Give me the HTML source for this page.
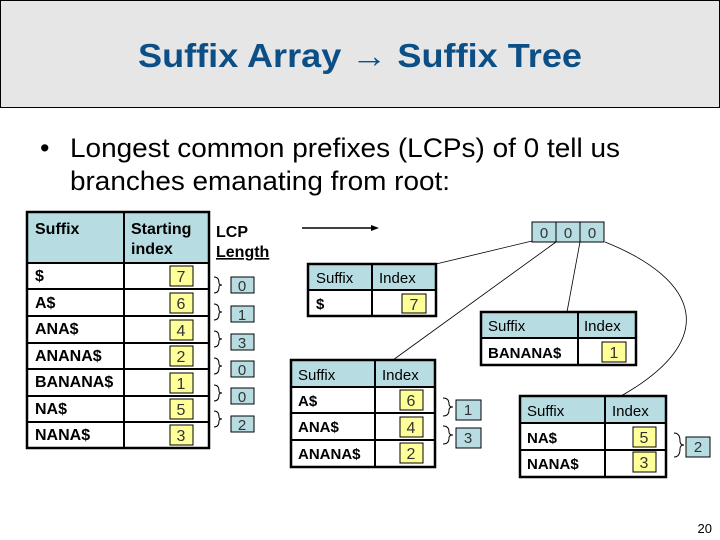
<!DOCTYPE html>
<html><head><meta charset="utf-8"><style>
html,body{margin:0;padding:0;background:#fff;}
svg{display:block;font-family:"Liberation Sans",Arial,sans-serif;}
</style></head><body>
<svg width="720" height="540" viewBox="0 0 720 540" xmlns="http://www.w3.org/2000/svg">
<rect x="0.5" y="0.5" width="719" height="107" fill="#e6e6e6" stroke="#000" stroke-width="1"/>
<text x="360" y="67" text-anchor="middle" font-size="33" font-weight="bold" fill="#0b4f86" textLength="444" lengthAdjust="spacingAndGlyphs">Suffix Array → Suffix Tree</text>
<text x="40" y="157" font-size="27" fill="#000">•</text>
<text x="70" y="157" font-size="27" fill="#000" textLength="550" lengthAdjust="spacingAndGlyphs">Longest common prefixes (LCPs) of 0 tell us</text>
<text x="70" y="190" font-size="27" fill="#000" textLength="380" lengthAdjust="spacingAndGlyphs">branches emanating from root:</text>

<!-- main table -->
<g stroke="#000">
<rect x="27" y="212" width="182" height="51" fill="#b7dde3" stroke="none"/>
<rect x="27" y="212" width="182" height="236" fill="none" stroke-width="2.5"/>
<line x1="124" y1="212" x2="124" y2="448" stroke-width="2"/>
<line x1="27" y1="263" x2="209" y2="263" stroke-width="2"/>
<line x1="27" y1="289" x2="209" y2="289" stroke-width="2"/>
<line x1="27" y1="316" x2="209" y2="316" stroke-width="2"/>
<line x1="27" y1="343" x2="209" y2="343" stroke-width="2"/>
<line x1="27" y1="369" x2="209" y2="369" stroke-width="2"/>
<line x1="27" y1="396" x2="209" y2="396" stroke-width="2"/>
<line x1="27" y1="422" x2="209" y2="422" stroke-width="2"/>
</g>
<g font-size="16" font-weight="bold">
<text x="35" y="234">Suffix</text>
<text x="131" y="234">Starting</text>
<text x="131" y="254">index</text>
<text x="216" y="237">LCP</text>
<text x="216" y="257" text-decoration="underline">Length</text>
<text x="35" y="281">$</text>
<text x="35" y="308">A$</text>
<text x="35" y="334">ANA$</text>
<text x="35" y="361">ANANA$</text>
<text x="35" y="387">BANANA$</text>
<text x="35" y="414">NA$</text>
<text x="35" y="440">NANA$</text>
</g>
<g stroke="#000" stroke-width="1" fill="#ffff99">
<rect x="170" y="266" width="23" height="20"/>
<rect x="170" y="293" width="23" height="20"/>
<rect x="170" y="320" width="23" height="20"/>
<rect x="170" y="346" width="23" height="20"/>
<rect x="170" y="373" width="23" height="20"/>
<rect x="170" y="399" width="23" height="20"/>
<rect x="170" y="425" width="23" height="20"/>
</g>
<g font-size="16" text-anchor="middle" fill="#333">
<text x="181" y="282">7</text><text x="181" y="309">6</text><text x="181" y="336">4</text><text x="181" y="362">2</text><text x="181" y="389">1</text><text x="181" y="415">5</text><text x="181" y="441">3</text>
</g>
<!-- LCP boxes -->
<g stroke="#000" stroke-width="1" fill="#b7dde3">
<rect x="231" y="277" width="23" height="16"/>
<rect x="231" y="306" width="23" height="16"/>
<rect x="231" y="334" width="23" height="16"/>
<rect x="231" y="361" width="23" height="16"/>
<rect x="231" y="388" width="23" height="16"/>
<rect x="231" y="416" width="23" height="16"/>
</g>
<g font-size="15" text-anchor="middle" fill="#333">
<text x="242" y="291">0</text><text x="242" y="320">1</text><text x="242" y="348">3</text><text x="242" y="375">0</text><text x="242" y="402">0</text><text x="242" y="430">2</text>
</g>
<g fill="none" stroke="#000" stroke-width="1">
<path d="M214 277 q5 0 5 6 q0 2 3 2 q-3 0 -3 2 q0 6 -5 6"/>
<path d="M214 304 q5 0 5 6 q0 2 3 2 q-3 0 -3 2 q0 6 -5 6"/>
<path d="M214 331 q5 0 5 6 q0 2 3 2 q-3 0 -3 2 q0 6 -5 6"/>
<path d="M214 358 q5 0 5 6 q0 2 3 2 q-3 0 -3 2 q0 6 -5 6"/>
<path d="M214 385 q5 0 5 6 q0 2 3 2 q-3 0 -3 2 q0 6 -5 6"/>
<path d="M214 411 q5 0 5 6 q0 2 3 2 q-3 0 -3 2 q0 6 -5 6"/>
</g>

<!-- arrow -->
<line x1="302" y1="228" x2="374" y2="228" stroke="#000" stroke-width="1.5"/>
<polygon points="379,228 371,225 371,231" fill="#000"/>

<!-- root 000 -->
<g stroke="#000" stroke-width="1" fill="#b7dde3">
<rect x="532" y="222" width="24" height="20"/><rect x="556" y="222" width="24" height="20"/><rect x="580" y="222" width="24" height="20"/>
</g>
<g font-size="15" text-anchor="middle" fill="#333"><text x="544" y="238">0</text><text x="568" y="238">0</text><text x="592" y="238">0</text></g>
<g stroke="#000" stroke-width="0.8" fill="none">
<line x1="532" y1="241" x2="436" y2="264"/>
<line x1="556" y1="242" x2="393" y2="360"/>
<line x1="580" y1="242" x2="567" y2="312"/>
<path d="M605 242 C700 280 720 340 621 396"/>
</g>

<!-- small tables -->
<g stroke="#000">
<rect x="308" y="264" width="128" height="26" fill="#b7dde3" stroke="none"/>
<rect x="308" y="264" width="128" height="52" fill="none" stroke-width="2.5"/>
<line x1="372" y1="264" x2="372" y2="316" stroke-width="2"/><line x1="308" y1="290" x2="436" y2="290" stroke-width="2"/>

<rect x="481" y="312" width="155" height="26" fill="#b7dde3" stroke="none"/>
<rect x="481" y="312" width="155" height="53" fill="none" stroke-width="2.5"/>
<line x1="578" y1="312" x2="578" y2="365" stroke-width="2"/><line x1="481" y1="338" x2="636" y2="338" stroke-width="2"/>

<rect x="291" y="360" width="144" height="27" fill="#b7dde3" stroke="none"/>
<rect x="291" y="360" width="144" height="107" fill="none" stroke-width="2.5"/>
<line x1="375" y1="360" x2="375" y2="467" stroke-width="2"/><line x1="291" y1="387" x2="435" y2="387" stroke-width="2"/>
<line x1="291" y1="413" x2="435" y2="413" stroke-width="2"/><line x1="291" y1="440" x2="435" y2="440" stroke-width="2"/>

<rect x="520" y="396" width="146" height="27" fill="#b7dde3" stroke="none"/>
<rect x="520" y="396" width="146" height="81" fill="none" stroke-width="2.5"/>
<line x1="605" y1="396" x2="605" y2="477" stroke-width="2"/><line x1="520" y1="423" x2="666" y2="423" stroke-width="2"/>
<line x1="520" y1="450" x2="666" y2="450" stroke-width="2"/>
</g>
<g stroke="#000" stroke-width="1" fill="#ffff99">
<rect x="402" y="294" width="24" height="19"/>
<rect x="602" y="342" width="24" height="20"/>
<rect x="400" y="390" width="23" height="20"/><rect x="400" y="417" width="23" height="20"/><rect x="400" y="443" width="23" height="20"/>
<rect x="633" y="427" width="23" height="20"/><rect x="633" y="452" width="23" height="20"/>
</g>
<g font-size="15" fill="#000">
<text x="316" y="283">Suffix</text><text x="379" y="283">Index</text><text x="316" y="309" font-weight="bold">$</text>
<text x="488" y="331">Suffix</text><text x="584" y="331">Index</text><text x="488" y="358" font-weight="bold">BANANA$</text>
<text x="298" y="380">Suffix</text><text x="382" y="380">Index</text>
<text x="298" y="406" font-weight="bold">A$</text><text x="298" y="432" font-weight="bold">ANA$</text><text x="298" y="459" font-weight="bold">ANANA$</text>
<text x="527" y="416">Suffix</text><text x="612" y="416">Index</text>
<text x="527" y="443" font-weight="bold">NA$</text><text x="527" y="469" font-weight="bold">NANA$</text>
</g>
<g font-size="16" text-anchor="middle" fill="#333">
<text x="414" y="310">7</text><text x="614" y="358">1</text>
<text x="411" y="406">6</text><text x="411" y="433">4</text><text x="411" y="459">2</text>
<text x="644" y="443">5</text><text x="644" y="468">3</text>
</g>
<g stroke="#000" stroke-width="1" fill="#b7dde3">
<rect x="456" y="400" width="25" height="20"/><rect x="456" y="428" width="25" height="20"/><rect x="686" y="437" width="24" height="20"/>
</g>
<g font-size="15" text-anchor="middle" fill="#333"><text x="468" y="415">1</text><text x="468" y="443">3</text><text x="698" y="452">2</text></g>
<g fill="none" stroke="#000" stroke-width="1">
<path d="M443 398 q6 0 6 6 q0 3 4 3 q-4 0 -4 3 q0 6 -6 6"/>
<path d="M443 426 q6 0 6 6 q0 3 4 3 q-4 0 -4 3 q0 6 -6 6"/>
<path d="M674 433 q6 0 6 8 q0 4 4 4 q-4 0 -4 4 q0 8 -6 8"/>
</g>
<text x="712" y="533" font-size="13" text-anchor="end" fill="#000">20</text>
</svg>
</body></html>
